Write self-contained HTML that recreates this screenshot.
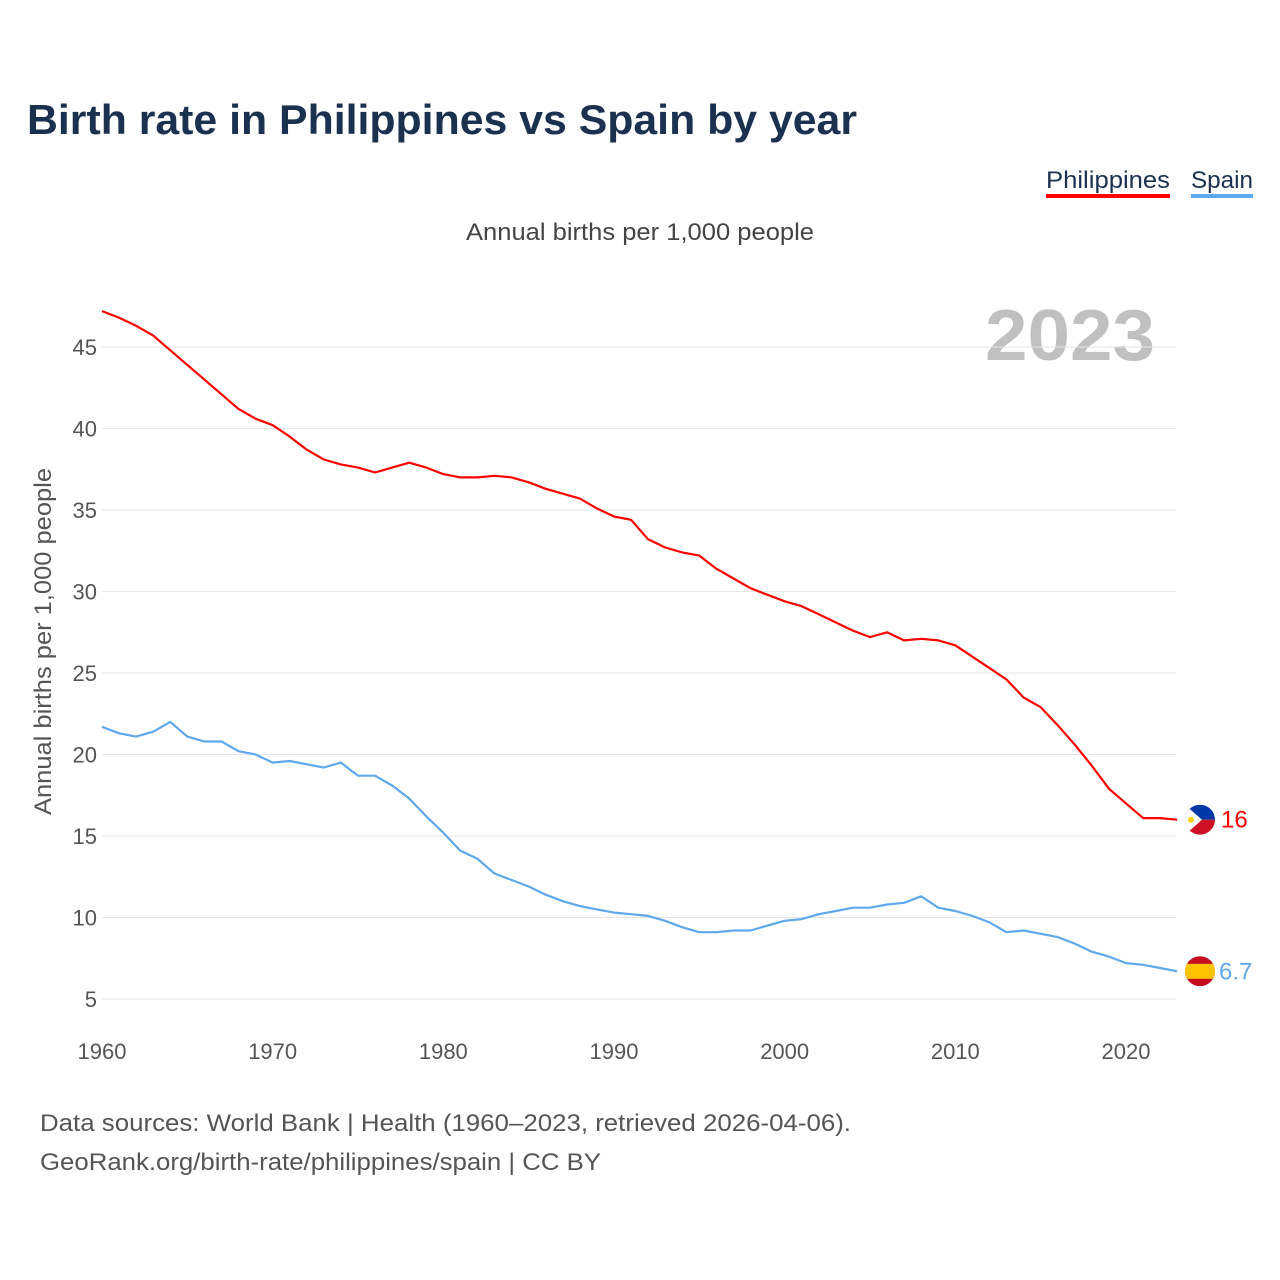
<!DOCTYPE html>
<html><head><meta charset="utf-8"><style>
body{margin:0;background:#fff;}
svg{display:block;font-family:"Liberation Sans",sans-serif;}
</style></head><body>
<svg id="chart" width="1280" height="1280" viewBox="0 0 1280 1280">
<text x="27" y="134" font-size="42" font-weight="bold" fill="#1a3150" textLength="830" lengthAdjust="spacingAndGlyphs">Birth rate in Philippines vs Spain by year</text>
<g>
<text x="1046" y="188" font-size="24" fill="#1a3150" textLength="124" lengthAdjust="spacingAndGlyphs">Philippines</text>
<rect x="1046" y="194" width="124" height="4" fill="#f00"/>
<text x="1191" y="188" font-size="24" fill="#1a3150" textLength="62" lengthAdjust="spacingAndGlyphs">Spain</text>
<rect x="1191" y="194" width="62" height="4" fill="#5ea8ee"/>
</g>
<text x="466" y="240" font-size="24" fill="#444" textLength="348" lengthAdjust="spacingAndGlyphs">Annual births per 1,000 people</text>
<text x="985" y="360" font-size="72" font-weight="bold" fill="#c0c0c0" textLength="170" lengthAdjust="spacingAndGlyphs">2023</text>
<text transform="translate(51,815) rotate(-90)" font-size="24" fill="#555" textLength="347" lengthAdjust="spacingAndGlyphs">Annual births per 1,000 people</text>
<g id="grid"></g>
<g id="yticks"></g>
<g id="xticks"></g>
<g id="series"></g>
<g id="ends"></g>
<text x="40" y="1131" font-size="24" fill="#555" textLength="811" lengthAdjust="spacingAndGlyphs">Data sources: World Bank | Health (1960–2023, retrieved 2026-04-06).</text>
<text x="40" y="1170" font-size="24" fill="#555" textLength="561" lengthAdjust="spacingAndGlyphs">GeoRank.org/birth-rate/philippines/spain | CC BY</text>
</svg>
<script>
const years=[];for(let y=1960;y<=2023;y++)years.push(y);
const philippines=[47.2,46.8,46.3,45.7,44.8,43.9,43.0,42.1,41.2,40.6,40.2,39.5,38.7,38.1,37.8,37.6,37.3,37.6,37.9,37.6,37.2,37.0,37.0,37.1,37.0,36.7,36.3,36.0,35.7,35.1,34.6,34.4,33.2,32.7,32.4,32.2,31.4,30.8,30.2,29.8,29.4,29.1,28.6,28.1,27.6,27.2,27.5,27.0,27.1,27.0,26.7,26.0,25.3,24.6,23.5,22.9,21.8,20.6,19.3,17.9,17.0,16.1,16.1,16.0];
const spain=[21.7,21.3,21.1,21.4,22.0,21.1,20.8,20.8,20.2,20.0,19.5,19.6,19.4,19.2,19.5,18.7,18.7,18.1,17.3,16.2,15.2,14.1,13.6,12.7,12.3,11.9,11.4,11.0,10.7,10.5,10.3,10.2,10.1,9.8,9.4,9.1,9.1,9.2,9.2,9.5,9.8,9.9,10.2,10.4,10.6,10.6,10.8,10.9,11.3,10.6,10.4,10.1,9.7,9.1,9.2,9.0,8.8,8.4,7.9,7.6,7.2,7.1,6.9,6.7];
const yTicks=[5,10,15,20,25,30,35,40,45];
const xTicks=[1960,1970,1980,1990,2000,2010,2020];
const endLabels=["16","6.7"];
const NS="http://www.w3.org/2000/svg";
const X=y=>102+(y-1960)*1024/60;
const Y=v=>999-(v-5)*16.3;
function mk(t,a,p){const e=document.createElementNS(NS,t);for(const k in a)e.setAttribute(k,a[k]);p.appendChild(e);return e;}
const grid=document.getElementById('grid'),yt=document.getElementById('yticks'),xt=document.getElementById('xticks'),ser=document.getElementById('series'),ends=document.getElementById('ends');
yTicks.forEach(v=>{
 const l=mk('line',{x1:102,x2:1176,y1:Y(v),y2:Y(v),stroke:'#e6e6e6','stroke-width':1},grid);
 
 
 const t=mk('text',{x:97,y:Y(v)+8,'font-size':22,fill:'#555','text-anchor':'end'},yt);t.textContent=v;
 
 
});
xTicks.forEach(v=>{
 const t=mk('text',{x:X(v),y:1059,'font-size':22,fill:'#555','text-anchor':'middle'},xt);t.textContent=v;
 
 
});
function line(data,color,name){
 const d=data.map((v,i)=>(i?'L':'M')+X(years[i]).toFixed(1)+','+Y(v).toFixed(1)).join('');
 const p=mk('path',{d:d,fill:'none',stroke:color,'stroke-width':2.2,'stroke-linejoin':'round'},ser);
 
 
}
line(spain,'#5ea8ee','spain-line');
line(philippines,'#f00','philippines-line');
const last=years.length-1;
let cy=Y(philippines[last]),cx=1200;
let g=mk('g',{},ends);


const cp1=mk('clipPath',{id:'c1'},g);mk('circle',{cx:cx,cy:cy,r:15},cp1);
mk('rect',{x:cx-15,y:cy-15,width:30,height:15,fill:'#0038a8','clip-path':'url(#c1)'},g);
mk('rect',{x:cx-15,y:cy,width:30,height:15,fill:'#ce1126','clip-path':'url(#c1)'},g);
mk('path',{d:`M${cx-15},${cy-15}L${cx+2},${cy}L${cx-15},${cy+15}Z`,fill:'#fff','clip-path':'url(#c1)'},g);
mk('circle',{cx:cx-9,cy:cy,r:3,fill:'#fcd116'},g);
let t=mk('text',{x:1221,y:cy+8,'font-size':24,fill:'#f00'},ends);t.textContent=endLabels[0];


cy=Y(spain[last]);
g=mk('g',{},ends);


const cp=mk('clipPath',{id:'c2'},g);mk('circle',{cx:cx,cy:cy,r:15},cp);
mk('rect',{x:cx-15,y:cy-15,width:30,height:30,fill:'#c60b1e','clip-path':'url(#c2)'},g);
mk('rect',{x:cx-15,y:cy-7.5,width:30,height:15,fill:'#ffc400','clip-path':'url(#c2)'},g);
t=mk('text',{x:1219,y:cy+8,'font-size':24,fill:'#5ea8ee'},ends);t.textContent=endLabels[1];


</script>
</body></html>
